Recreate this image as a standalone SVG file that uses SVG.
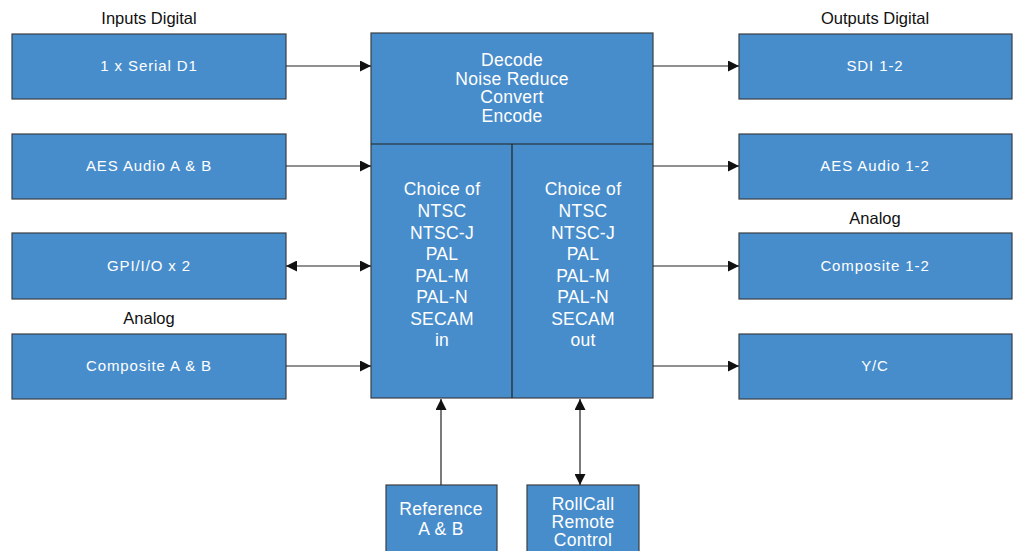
<svg xmlns="http://www.w3.org/2000/svg" width="1018" height="551" viewBox="0 0 1018 551">
<defs>
<style>
.box{fill:#488dcb;stroke:#3a3f45;stroke-width:1.2}
.bt{font-family:"Liberation Sans",Arial,sans-serif;font-size:15px;fill:#ffffff;text-anchor:middle;letter-spacing:0.9px}
.ct{font-family:"Liberation Sans",Arial,sans-serif;font-size:17.5px;fill:#ffffff;text-anchor:middle;letter-spacing:0.3px}
.lbl{font-family:"Liberation Sans",Arial,sans-serif;font-size:16.5px;fill:#111111;text-anchor:middle}
.ln{stroke:#222222;stroke-width:1.2;fill:none}
</style>
<marker id="ah" viewBox="0 0 10 10" refX="10" refY="5" markerWidth="11" markerHeight="11" markerUnits="userSpaceOnUse" orient="auto-start-reverse">
<path d="M0,0 L10,5 L0,10 Z" fill="#111111"/>
</marker>
</defs>
<rect width="1018" height="551" fill="#ffffff"/>
<text class="lbl" x="149" y="24">Inputs Digital</text>
<text class="lbl" x="875" y="24">Outputs Digital</text>
<text class="lbl" x="875" y="224">Analog</text>
<text class="lbl" x="149" y="324">Analog</text>
<g id="in1"><rect class="box" x="12" y="34" width="274" height="65"/><text class="bt" x="149" y="71">1 x Serial D1</text></g>
<g id="in2"><rect class="box" x="12" y="134" width="274" height="65"/><text class="bt" x="149" y="171">AES Audio A &amp; B</text></g>
<g id="in3"><rect class="box" x="12" y="233" width="274" height="66"/><text class="bt" x="149" y="271">GPI/I/O x 2</text></g>
<g id="in4"><rect class="box" x="12" y="334" width="274" height="65"/><text class="bt" x="149" y="371">Composite A &amp; B</text></g>
<g id="out1"><rect class="box" x="739" y="34" width="273" height="65"/><text class="bt" x="875" y="71">SDI 1-2</text></g>
<g id="out2"><rect class="box" x="739" y="134" width="273" height="65"/><text class="bt" x="875" y="171">AES Audio 1-2</text></g>
<g id="out3"><rect class="box" x="739" y="233" width="273" height="66"/><text class="bt" x="875" y="271">Composite 1-2</text></g>
<g id="out4"><rect class="box" x="739" y="334" width="273" height="65"/><text class="bt" x="875" y="371">Y/C</text></g>
<g id="core">
<rect class="box" x="371" y="33" width="282" height="365"/>
<line class="ln" x1="371" y1="144" x2="653" y2="144" stroke="#3a3f45"/>
<line class="ln" x1="512" y1="144" x2="512" y2="398" stroke="#3a3f45"/>
<text class="ct" x="512" y="66">Decode</text>
<text class="ct" x="512" y="84.5">Noise Reduce</text>
<text class="ct" x="512" y="103">Convert</text>
<text class="ct" x="512" y="121.5">Encode</text>
<text class="ct" x="442" y="195">Choice of</text>
<text class="ct" x="442" y="217">NTSC</text>
<text class="ct" x="442" y="238.5">NTSC-J</text>
<text class="ct" x="442" y="260">PAL</text>
<text class="ct" x="442" y="281.5">PAL-M</text>
<text class="ct" x="442" y="303">PAL-N</text>
<text class="ct" x="442" y="324.5">SECAM</text>
<text class="ct" x="442" y="346">in</text>
<text class="ct" x="583" y="195">Choice of</text>
<text class="ct" x="583" y="217">NTSC</text>
<text class="ct" x="583" y="238.5">NTSC-J</text>
<text class="ct" x="583" y="260">PAL</text>
<text class="ct" x="583" y="281.5">PAL-M</text>
<text class="ct" x="583" y="303">PAL-N</text>
<text class="ct" x="583" y="324.5">SECAM</text>
<text class="ct" x="583" y="346">out</text>
</g>
<g id="ref"><rect class="box" x="386" y="485" width="111" height="70"/><text class="ct" x="441" y="515">Reference</text><text class="ct" x="441" y="535">A &amp; B</text></g>
<g id="rollcall"><rect class="box" x="527" y="485" width="112" height="70"/><text class="ct" x="583" y="510">RollCall</text><text class="ct" x="583" y="528">Remote</text><text class="ct" x="583" y="546">Control</text></g>
<g id="connectors">
<line class="ln" x1="286" y1="66" x2="371" y2="66" marker-end="url(#ah)"/>
<line class="ln" x1="286" y1="166" x2="371" y2="166" marker-end="url(#ah)"/>
<line class="ln" x1="286" y1="266" x2="371" y2="266" marker-start="url(#ah)" marker-end="url(#ah)"/>
<line class="ln" x1="286" y1="366" x2="371" y2="366" marker-end="url(#ah)"/>
<line class="ln" x1="653" y1="66" x2="739" y2="66" marker-end="url(#ah)"/>
<line class="ln" x1="653" y1="166" x2="739" y2="166" marker-end="url(#ah)"/>
<line class="ln" x1="653" y1="266" x2="739" y2="266" marker-end="url(#ah)"/>
<line class="ln" x1="653" y1="366" x2="739" y2="366" marker-end="url(#ah)"/>
<line class="ln" x1="441" y1="485" x2="441" y2="399" marker-end="url(#ah)"/>
<line class="ln" x1="580" y1="399" x2="580" y2="485" marker-start="url(#ah)" marker-end="url(#ah)"/>
</g>
</svg>
